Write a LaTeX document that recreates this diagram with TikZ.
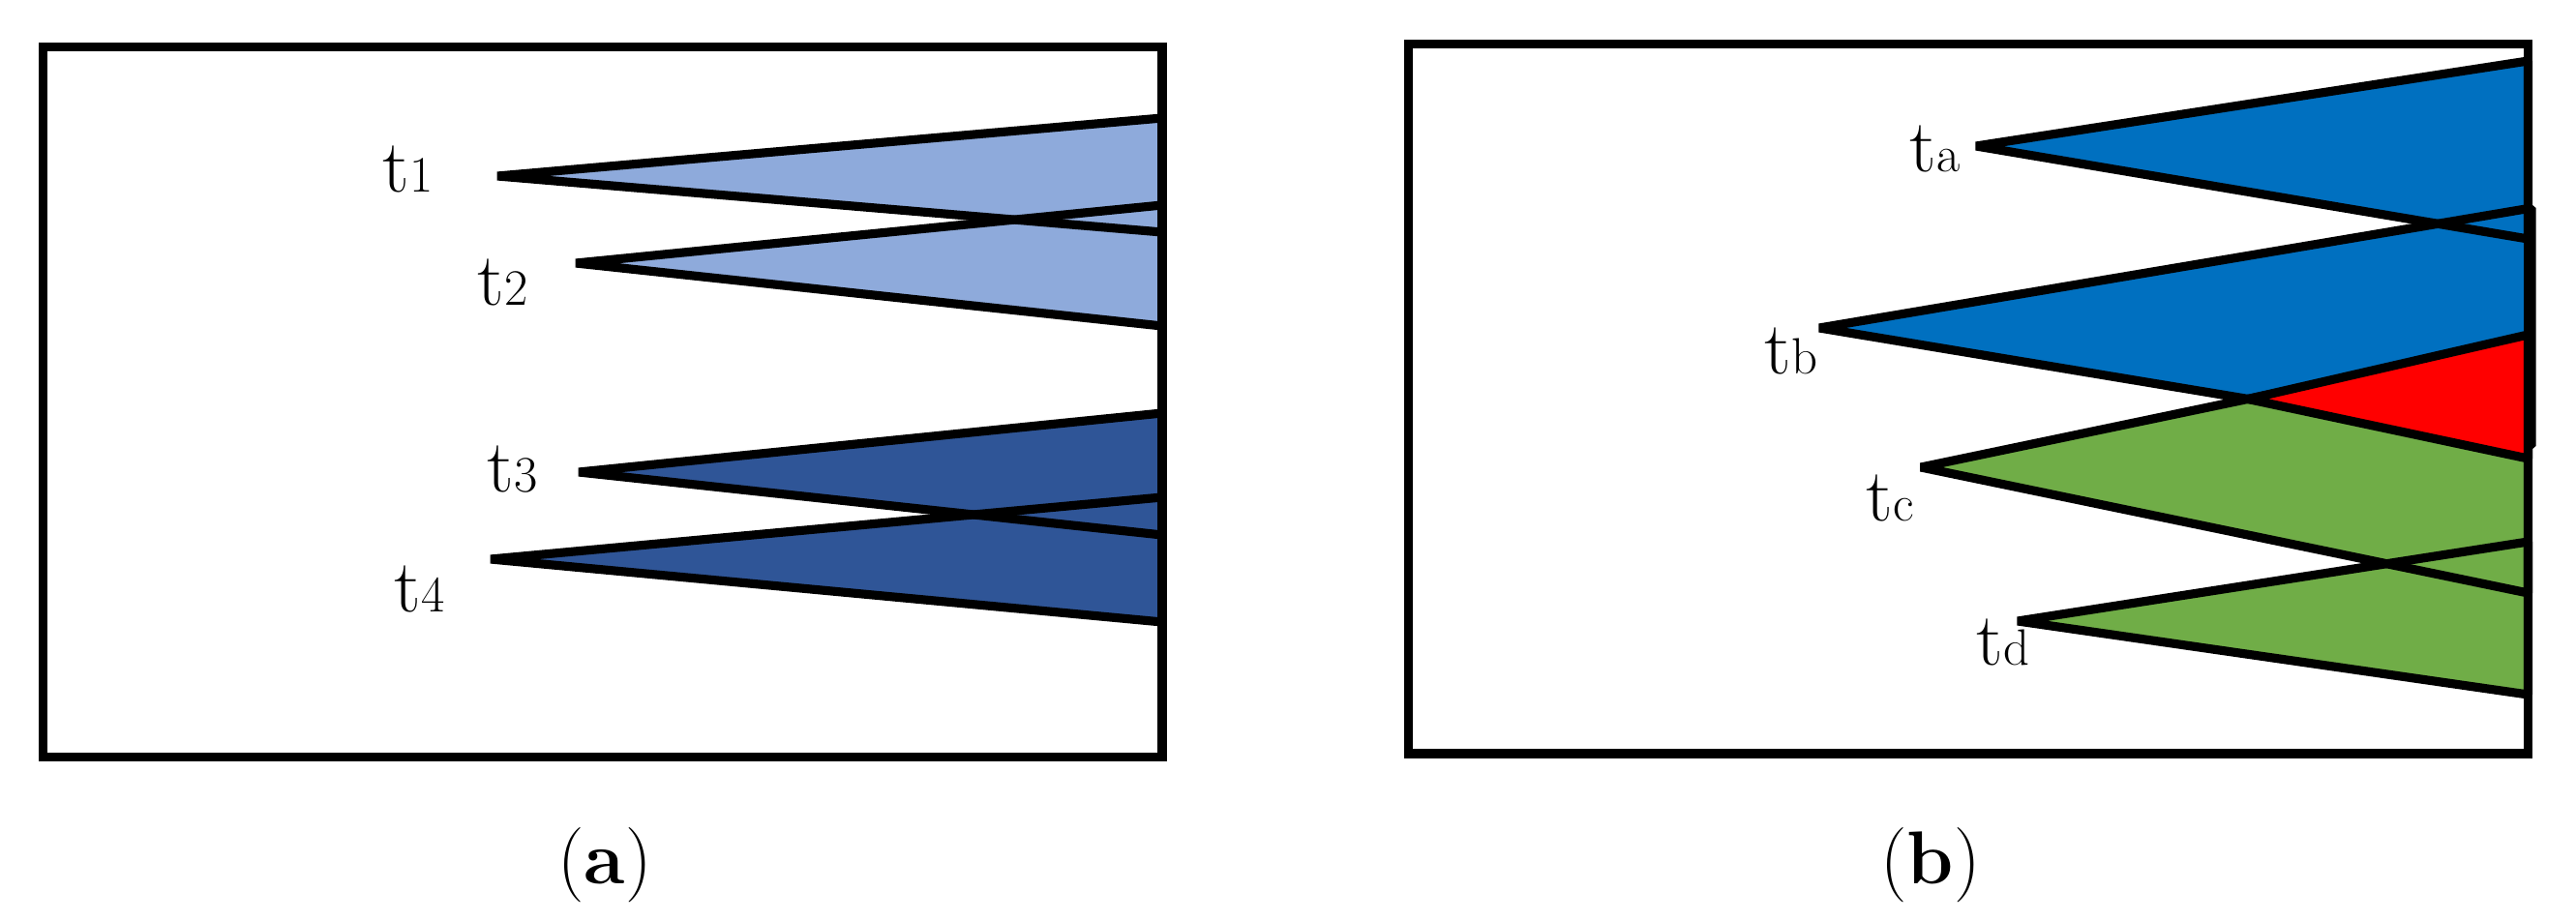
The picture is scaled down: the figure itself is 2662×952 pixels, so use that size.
\documentclass[tikz,border=0pt]{standalone}
\usepackage{fontspec}
\usepackage{tikz}

% 颜色
\definecolor{lightblue}{HTML}{8EAADB}
\definecolor{darkblue}{HTML}{2F5597}
\definecolor{midblue}{HTML}{0070C0}
\definecolor{leafgreen}{HTML}{70AD47}

% 标签:t 后面跟一个小号字符(不下沉)
\newcommand{\tlab}[1]{t{\fontsize{15}{15}\selectfont #1}}

\begin{document}
\begin{tikzpicture}[x=0.01cm,y=-0.01cm,
	frame/.style={line width=2.6pt},
	edge/.style={line width=2.6pt,line join=bevel},
	lab/.style={anchor=base west,inner sep=0pt,font=\fontsize{22}{22}\selectfont}]
	% 固定画面大小 2662 x 952
	\useasboundingbox (0,0) rectangle (2662,952);
	
	% ===== 左图 (a) =====
	% 填充四个三角形
	\fill[lightblue] (514,182) -- (1201,122) -- (1201,240) -- cycle; % t1
	\fill[lightblue] (595,272) -- (1201,212) -- (1201,337) -- cycle; % t2
	\fill[darkblue] (598,488) -- (1201,427) -- (1201,553) -- cycle; % t3
	\fill[darkblue] (507,578) -- (1201,514) -- (1201,643) -- cycle; % t4
	% 三角形边线
	\draw[edge] (514,182) -- (1201,122) -- (1201,240) -- cycle;
	\draw[edge] (595,272) -- (1201,212) -- (1201,337) -- cycle;
	\draw[edge] (598,488) -- (1201,427) -- (1201,553) -- cycle;
	\draw[edge] (507,578) -- (1201,514) -- (1201,643) -- cycle;
	% 外框
	\draw[frame] (44.5,48.5) rectangle (1201,782.5);
	% 标注 t1 ~ t4
	\node[lab] (t1) at (395,199) {\tlab{1}};
	\node[lab] (t2) at (493,316) {\tlab{2}};
	\node[lab] (t3) at (503,509) {\tlab{3}};
	\node[lab] (t4) at (407,633) {\tlab{4}};
	% 图题 (a)
	\node[anchor=base,inner sep=0pt,font=\fontsize{22}{22}\selectfont] (capa) at (625,914) {(\textbf{a})};
	
	% ===== 右图 (b) =====
	% 填充四个三角形
	\fill[midblue] (2042,151) -- (2612.5,63) -- (2612.5,247) -- cycle; % ta
	\fill[midblue] (1880,339) -- (2616,215) -- (2616,461) -- cycle; % tb
	\fill[leafgreen] (1985,483) -- (2612.5,352) -- (2612.5,613) -- cycle; % tc
	\fill[leafgreen] (2085,642) -- (2612.5,560) -- (2612.5,718) -- cycle; % td
	% 三角形边线
	\draw[edge] (2042,151) -- (2612.5,63) -- (2612.5,247) -- cycle;
	\draw[edge] (1880,339) -- (2616,215) -- (2616,461) -- cycle;
	\draw[edge] (1985,483) -- (2612.5,352) -- (2612.5,613) -- cycle;
	\draw[edge] (2085,642) -- (2612.5,560) -- (2612.5,718) -- cycle;
	% tb 与 tc 的重叠部分:单独的红色三角形
	\filldraw[edge,fill=red] (2323,412.5) -- (2612.5,346) -- (2612.5,474) -- cycle;
	% 外框
	\draw[frame] (1455.5,45.5) rectangle (2612.5,779);
	% 标注 ta ~ td
	\node[lab] (ta) at (1973,178) {\tlab{a}};
	\node[lab] (tb) at (1823,387) {\tlab{b}};
	\node[lab] (tc) at (1928,539) {\tlab{c}};
	\node[lab] (td) at (2042,688) {\tlab{d}};
	% 图题 (b)
	\node[anchor=base,inner sep=0pt,font=\fontsize{22}{22}\selectfont] (capb) at (1995,914) {(\textbf{b})};
	
\end{tikzpicture}
\end{document}
